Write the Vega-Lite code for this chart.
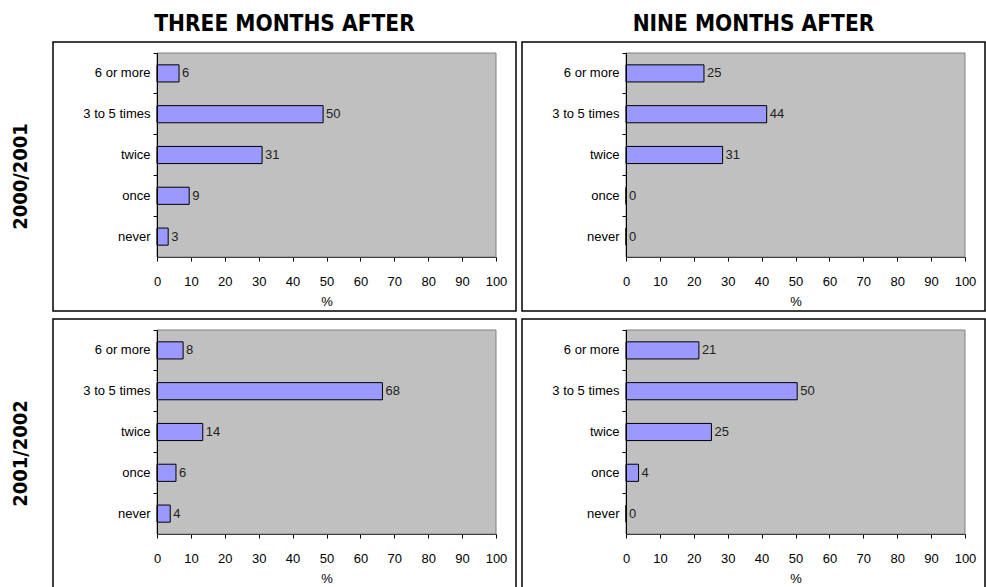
{
  "$schema": "https://vega.github.io/schema/vega-lite/v6.json",
  "padding": {"left": 10, "top": 12, "right": 0, "bottom": 0},
  "background": "white",
  "data": {"values": [
    {"period": "THREE MONTHS AFTER", "year": "2000/2001", "category": "6 or more", "value": 6.5, "label": "6"},
    {"period": "THREE MONTHS AFTER", "year": "2000/2001", "category": "3 to 5 times", "value": 49, "label": "50"},
    {"period": "THREE MONTHS AFTER", "year": "2000/2001", "category": "twice", "value": 31, "label": "31"},
    {"period": "THREE MONTHS AFTER", "year": "2000/2001", "category": "once", "value": 9.5, "label": "9"},
    {"period": "THREE MONTHS AFTER", "year": "2000/2001", "category": "never", "value": 3.3, "label": "3"},
    {"period": "NINE MONTHS AFTER", "year": "2000/2001", "category": "6 or more", "value": 23, "label": "25"},
    {"period": "NINE MONTHS AFTER", "year": "2000/2001", "category": "3 to 5 times", "value": 41.5, "label": "44"},
    {"period": "NINE MONTHS AFTER", "year": "2000/2001", "category": "twice", "value": 28.5, "label": "31"},
    {"period": "NINE MONTHS AFTER", "year": "2000/2001", "category": "once", "value": 0, "label": "0"},
    {"period": "NINE MONTHS AFTER", "year": "2000/2001", "category": "never", "value": 0, "label": "0"},
    {"period": "THREE MONTHS AFTER", "year": "2001/2002", "category": "6 or more", "value": 7.7, "label": "8"},
    {"period": "THREE MONTHS AFTER", "year": "2001/2002", "category": "3 to 5 times", "value": 66.5, "label": "68"},
    {"period": "THREE MONTHS AFTER", "year": "2001/2002", "category": "twice", "value": 13.5, "label": "14"},
    {"period": "THREE MONTHS AFTER", "year": "2001/2002", "category": "once", "value": 5.6, "label": "6"},
    {"period": "THREE MONTHS AFTER", "year": "2001/2002", "category": "never", "value": 3.9, "label": "4"},
    {"period": "NINE MONTHS AFTER", "year": "2001/2002", "category": "6 or more", "value": 21.5, "label": "21"},
    {"period": "NINE MONTHS AFTER", "year": "2001/2002", "category": "3 to 5 times", "value": 50.5, "label": "50"},
    {"period": "NINE MONTHS AFTER", "year": "2001/2002", "category": "twice", "value": 25.2, "label": "25"},
    {"period": "NINE MONTHS AFTER", "year": "2001/2002", "category": "once", "value": 3.7, "label": "4"},
    {"period": "NINE MONTHS AFTER", "year": "2001/2002", "category": "never", "value": 0, "label": "0"}
  ]},
  "facet": {
    "column": {
      "field": "period", "type": "nominal",
      "sort": ["THREE MONTHS AFTER", "NINE MONTHS AFTER"],
      "title": null,
      "header": {
        "labelFont": "DejaVu Sans Condensed, DejaVu Sans",
        "labelFontSize": 22.5, "labelFontWeight": "bold", "labelColor": "black",
        "labelPadding": 6
      }
    },
    "row": {
      "field": "year", "type": "nominal",
      "sort": ["2000/2001", "2001/2002"],
      "title": null,
      "header": {
        "labelFont": "DejaVu Sans Condensed, DejaVu Sans",
        "labelFontSize": 20, "labelFontWeight": "bold", "labelColor": "black",
        "labelAngle": -90,
        "labelPadding": 11
      }
    }
  },
  "spacing": {"row": 6, "column": 4},
  "resolve": {"axis": {"x": "independent", "y": "independent"}},
  "spec": {
    "width": 463,
    "height": 269,
    "layer": [
      {
        "transform": [{"filter": "datum.category === 'never'"}],
        "mark": {"type": "rect", "fill": "#C0C0C0", "stroke": "#808080", "strokeWidth": 1},
        "encoding": {
          "x": {
            "datum": 0, "type": "quantitative",
            "scale": {"domain": [0, 100], "range": [104, 443], "nice": false},
            "axis": {
              "title": "%", "orient": "bottom", "offset": -54,
              "values": [0, 10, 20, 30, 40, 50, 60, 70, 80, 90, 100],
              "grid": false, "tickSize": 4, "tickColor": "black", "domainColor": "black",
              "labelFont": "Liberation Sans", "labelFontSize": 13, "labelColor": "black",
              "labelPadding": 14, "labelFlush": false,
              "titleFont": "Liberation Sans", "titleFontSize": 13, "titleFontWeight": "normal",
              "titleColor": "black", "titlePadding": 7
            }
          },
          "x2": {"datum": 100},
          "y": {
            "datum": "6 or more", "type": "nominal", "bandPosition": 0,
            "sort": ["6 or more", "3 to 5 times", "twice", "once", "never"],
            "scale": {"range": [11, 215], "paddingInner": 0, "paddingOuter": 0}
          },
          "y2": {"datum": "never", "bandPosition": 1}
        }
      },
      {
        "mark": {"type": "bar", "color": "#9999FF", "stroke": "black", "strokeWidth": 1, "height": {"band": 0.42}},
        "encoding": {
          "x": {"field": "value", "type": "quantitative"},
          "y": {
            "field": "category", "type": "nominal",
            "sort": ["6 or more", "3 to 5 times", "twice", "once", "never"],
            "axis": {
              "title": null, "offset": -104, "bandPosition": 0,
              "tickSize": 4, "tickColor": "black", "domainColor": "black", "grid": false,
              "labelFont": "Liberation Sans", "labelFontSize": 13, "labelColor": "black",
              "labelPadding": 3
            }
          }
        }
      },
      {
        "mark": {"type": "text", "align": "left", "baseline": "middle", "dx": 3, "font": "Liberation Sans", "fontSize": 13, "color": "#222222"},
        "encoding": {
          "x": {"field": "value", "type": "quantitative"},
          "y": {"field": "category", "type": "nominal", "sort": ["6 or more", "3 to 5 times", "twice", "once", "never"]},
          "text": {"field": "label"}
        }
      }
    ]
  },
  "config": {
    "view": {"stroke": "black", "strokeWidth": 1.5, "fill": "white"}
  }
}
